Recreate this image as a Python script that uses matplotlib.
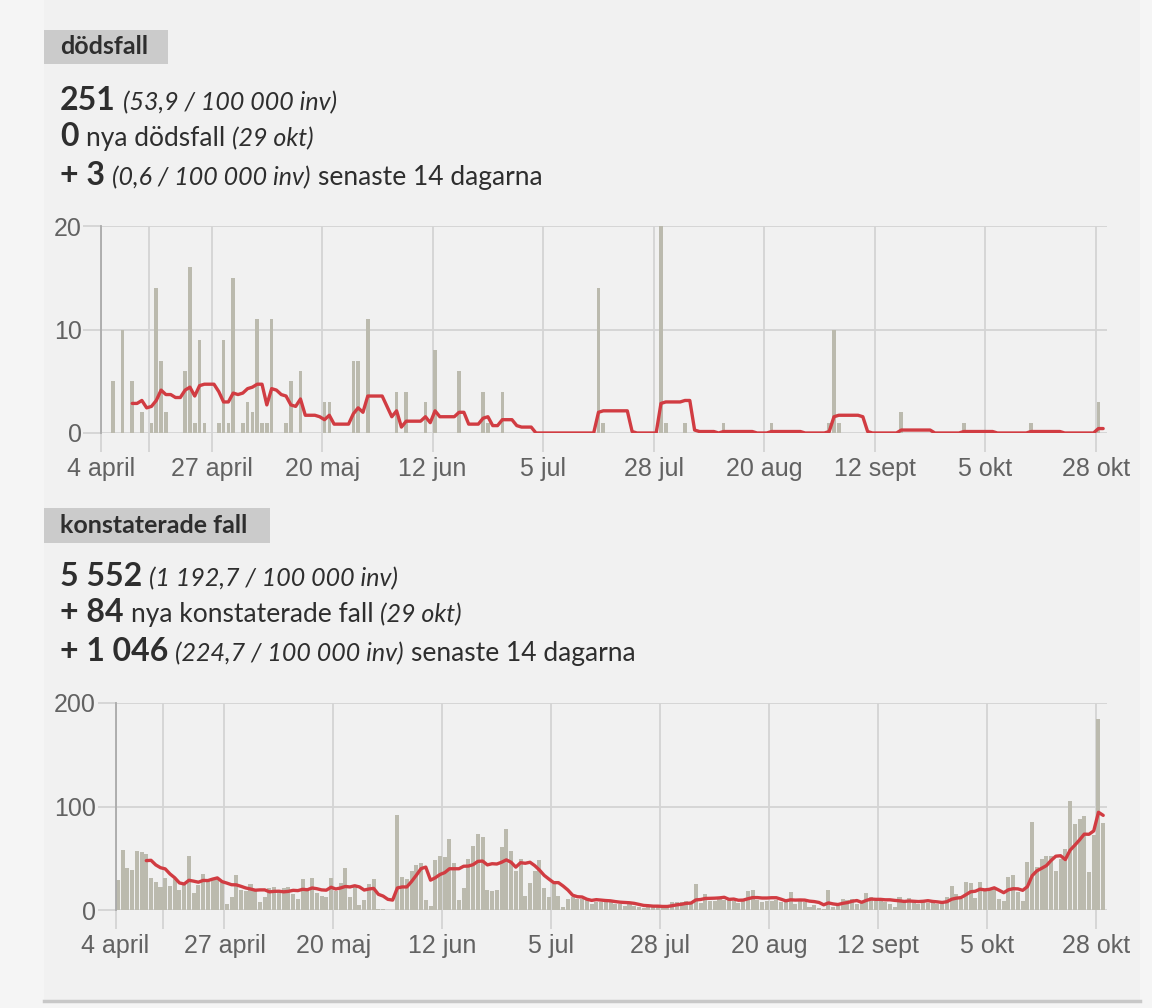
import matplotlib
matplotlib.use("Agg")
import matplotlib.pyplot as plt
from matplotlib.patches import Rectangle
from matplotlib.lines import Line2D
import numpy as np
import pandas as pd

W, H = 1152, 1008

# x axis: days after 4 april (day 0 = 4 april, last day 208 = 29 okt)
n_days = 209
tick_days = [0, 10, 23, 46, 69, 92, 115, 138, 161, 184, 207]
tick_labels = ["4 april", "", "27 april", "20 maj", "12 jun", "5 jul",
               "28 jul", "20 aug", "12 sept", "5 okt", "28 okt"]

# dödsfall: only the days with reported deaths
death_days = [2, 4, 6, 8, 10, 11, 12, 13, 17, 18, 19, 20, 21, 24, 25, 26, 27,
              29, 30, 31, 32, 33, 34, 35, 38, 39, 41, 46, 47, 52, 53, 55, 61,
              63, 67, 69, 74, 79, 80, 83, 103, 104, 116, 117, 121, 129, 139,
              151, 152, 153, 166, 179, 193, 207]
death_counts = [5, 10, 5, 2, 1, 14, 7, 2, 6, 16, 1, 9, 1, 1, 9, 1, 15,
                1, 3, 2, 11, 1, 1, 11, 1, 5, 6, 3, 3, 7, 7, 11, 4,
                4, 3, 8, 6, 4, 1, 4, 14, 1, 20, 1, 1, 1, 1,
                1, 10, 1, 2, 1, 1, 3]

# konstaterade fall per dag
cases = [29, 58, 41, 39, 57, 56, 54, 31, 27, 22,
         31, 23, 30, 19, 24, 52, 16, 24, 35, 29,
         29, 32, 27, 6, 13, 34, 19, 18, 25, 19,
         8, 13, 21, 22, 19, 21, 22, 15, 11, 30,
         19, 31, 16, 14, 13, 31, 18, 26, 41, 13,
         22, 5, 10, 25, 30, 1, 1, 0, 0, 92,
         32, 30, 38, 43, 45, 10, 4, 48, 52, 51,
         69, 45, 10, 21, 49, 62, 73, 71, 19, 18,
         19, 61, 78, 57, 38, 49, 14, 26, 38, 48,
         21, 13, 25, 14, 3, 11, 13, 11, 11, 10,
         6, 8, 8, 10, 9, 6, 6, 4, 6, 4,
         3, 2, 4, 3, 4, 4, 4, 8, 8, 8,
         9, 6, 25, 7, 15, 9, 9, 11, 10, 11,
         9, 7, 10, 18, 19, 10, 8, 9, 9, 10,
         8, 8, 17, 6, 10, 8, 3, 5, 2, 1,
         19, 3, 4, 11, 10, 11, 6, 7, 16, 13,
         9, 10, 8, 6, 3, 13, 9, 12, 8, 6,
         8, 7, 8, 6, 8, 13, 23, 15, 11, 27,
         26, 12, 27, 18, 19, 21, 11, 9, 32, 34,
         17, 9, 46, 85, 42, 49, 52, 52, 38, 49,
         59, 105, 83, 88, 91, 37, 72, 185, 84]

BAR = "#bbbaae"
RED = "#d13c42"
GRID = "#d4d4d4"
TXT = "#2e2e2e"
TICK = "#626262"
HEAD_FONT = ["Lato", "DejaVu Sans"]
TICK_FONT = ["Liberation Sans", "DejaVu Sans"]

fig = plt.figure(figsize=(W / 100, H / 100), dpi=100, facecolor="#f5f5f5")
renderer = fig.canvas.get_renderer()


def px(x, y):
    return x / W, 1 - y / H


# panel background and bottom rule
fig.patches.append(Rectangle(px(44, 1000), 1096 / W, 1000 / H,
                             transform=fig.transFigure, fc="#f1f1f1", ec="none", zorder=-2))
fig.lines.append(Line2D([44 / W, 1140 / W], [1 - 1001 / H] * 2,
                        transform=fig.transFigure, color="#c8c8c8", lw=2.5))


def label_box(x0, y0, x1, y1, text):
    fig.patches.append(Rectangle(px(x0, y1), (x1 - x0) / W, (y1 - y0) / H,
                                 transform=fig.transFigure, fc="#cbcbcb", ec="none", zorder=-1))
    fig.text(*px(60, y1 - 10), text, va="baseline", ha="left", fontsize=18,
             fontweight="bold", color=TXT, family=HEAD_FONT)


def text_runs(y, runs, x=60, gap=7):
    # draw pieces of differently styled text on one baseline
    for s, style in runs:
        kw = dict(fontsize=19, color=TXT, family=HEAD_FONT)
        if style == "b":
            kw.update(fontsize=23, fontweight="bold")
        elif style == "i":
            kw.update(fontstyle="italic", fontsize=18)
        t = fig.text(x / W, 1 - y / H, s, va="baseline", ha="left", **kw)
        x = t.get_window_extent(renderer).x1 + gap


def draw_chart(left, right, top, bottom, values, ymax, yticks, bar_w):
    ax = fig.add_axes([left / W, 1 - bottom / H, (right - left) / W, (bottom - top) / H])
    ax.set_facecolor("none")
    x = np.arange(n_days) + 0.5
    ax.bar(x, values, width=bar_w, color=BAR, zorder=2, linewidth=0)
    avg = pd.Series(values).rolling(7).mean()
    ax.plot(x, avg, color=RED, lw=2.4, zorder=3, solid_joinstyle="round",
            solid_capstyle="round")
    ax.set_xlim(0, 209.3)
    ax.set_ylim(0, ymax)
    ax.set_xticks(tick_days)
    ax.set_xticklabels(tick_labels, family=TICK_FONT)
    ax.set_yticks(yticks)
    ax.set_yticklabels([str(v) for v in yticks], family=TICK_FONT)
    ax.grid(True, color=GRID, lw=1.3, zorder=1)
    ax.set_axisbelow(True)
    for side in ["top", "right", "bottom"]:
        ax.spines[side].set_visible(False)
    ax.spines["left"].set_color("#aaaaaa")
    ax.spines["left"].set_linewidth(1.3)
    ax.tick_params(axis="x", length=14, width=1.3, color=GRID, pad=3,
                   labelsize=18, labelcolor=TICK)
    ax.tick_params(axis="y", length=13, width=1.3, color=GRID, pad=1,
                   labelsize=18, labelcolor=TICK)
    return ax


# dödsfall
label_box(44, 30, 168, 64, "dödsfall")
text_runs(110, [("251", "b"), ("(53,9 / 100 000 inv)", "i")])
text_runs(146, [("0", "b"), ("nya dödsfall", "r"), ("(29 okt)", "i")])
text_runs(185, [("+ 3", "b"), ("(0,6 / 100 000 inv)", "i"), ("senaste 14 dagarna", "r")])

deaths = np.zeros(n_days)
deaths[death_days] = death_counts
draw_chart(101, 1107, 226, 433, deaths, 20, [0, 10, 20], 0.75)

# konstaterade fall
label_box(44, 508, 270, 543, "konstaterade fall")
text_runs(586, [("5 552", "b"), ("(1 192,7 / 100 000 inv)", "i")])
text_runs(622, [("+ 84", "b"), ("nya konstaterade fall", "r"), ("(29 okt)", "i")])
text_runs(661, [("+ 1 046", "b"), ("(224,7 / 100 000 inv)", "i"), ("senaste 14 dagarna", "r")])

draw_chart(115.5, 1107, 703, 910, np.array(cases, dtype=float), 200, [0, 100, 200], 0.85)

fig.savefig("out.png", dpi=100, facecolor=fig.get_facecolor())
